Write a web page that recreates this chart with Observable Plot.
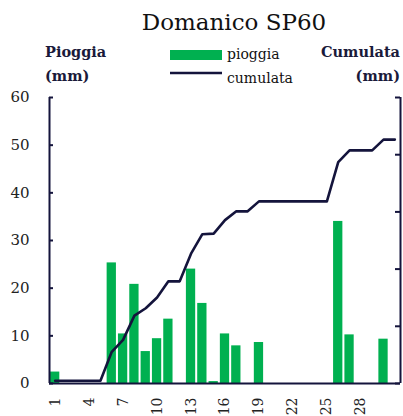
<!DOCTYPE html>
<html>
<head>
<meta charset="utf-8">
<script src="https://cdn.jsdelivr.net/npm/d3@7"></script>
<script src="https://cdn.jsdelivr.net/npm/@observablehq/plot@0.6"></script>
<style>
  html, body { margin: 0; padding: 0; background: #fff; }
  #chart { position: relative; width: 403px; height: 416px; }
</style>
</head>
<body>
<div id="chart"></div>
<script>
const days = d3.range(1, 32);
const pioggia = [2.4,0,0,0,0,25.3,10.4,20.8,6.7,9.4,13.5,0,24.0,16.8,0.4,10.4,7.9,0,8.6,0,0,0,0,0,0,34.0,10.2,0,0,9.3,0];
const cumulata = [2.4,2.4,2.4,2.4,2.4,27.7,38.1,59.3,65.8,75.2,89.3,89.3,113.5,130.5,131.0,142.8,150.5,150.5,159.2,159.2,159.2,159.2,159.2,159.2,159.2,193.5,203.8,203.8,203.8,213.2,213.2];
const xTickLabels = [1,4,7,10,13,16,19,22,25,28];
const yTicksLeft = [0,10,20,30,40,50,60];
const yTicksRight = [0,50,100,150,200,250];
const yMax = 60, cumMax = 250;

const data = days.map((d, i) => ({day: d, p: pioggia[i], c: cumulata[i]}));
const toLeft = v => v * yMax / cumMax;

const navy = "#14143c";
const green = "#00b050";
const font = "DejaVu Serif";

const W = 403, H = 416, mL = 49, mR = 3, mT = 97, mB = 33;
const frameW = W - mL - mR;

const plot = Plot.plot({
  width: W, height: H,
  marginLeft: mL, marginRight: mR, marginTop: mT, marginBottom: mB,
  style: {fontFamily: font, fontSize: "15px", color: "#222", background: "white"},
  x: {type: "linear", domain: [0.5, 31.5]},
  y: {domain: [0, yMax]},
  marks: [
    Plot.rectY(data.filter(d => d.p > 0), {x1: d => d.day - 0.41, x2: d => d.day + 0.41, y1: 0, y2: "p", fill: green}),
    Plot.line(data, {x: "day", y: d => toLeft(d.c), stroke: navy, strokeWidth: 2.6}),
    Plot.ruleX([0.5, 31.5], {stroke: navy, strokeWidth: 2}),
    Plot.ruleY([0], {stroke: navy, strokeWidth: 2}),
    Plot.tickY(yTicksLeft, {y: d => d, stroke: navy, strokeWidth: 2, insetRight: frameW - 4}),
    Plot.tickY(yTicksRight, {y: d => toLeft(d), stroke: navy, strokeWidth: 2, insetLeft: frameW - 5}),
    Plot.axisY({ticks: yTicksLeft, tickSize: 0, tickPadding: 20, label: null, fontSize: 15}),
    Plot.axisX({ticks: xTickLabels, tickSize: 0, tickPadding: 14, tickRotate: -90, label: null, fontSize: 14})
  ]
});

const svg = d3.select(plot);
function addText(txt, x, y, opts = {}) {
  svg.append("text")
    .attr("x", x).attr("y", y)
    .attr("font-family", font)
    .attr("font-size", opts.size || 15)
    .attr("font-weight", opts.weight || "normal")
    .attr("text-anchor", opts.anchor || "start")
    .attr("fill", opts.fill || "#111")
    .text(txt);
}
addText("Domanico SP60", 234, 30, {size: 23, anchor: "middle"});
addText("Pioggia", 45, 57, {size: 14.5, weight: "bold", fill: "#1a1a3a"});
addText("(mm)", 45, 81, {size: 14.5, weight: "bold", fill: "#1a1a3a"});
addText("Cumulata", 400, 57, {size: 14.5, weight: "bold", anchor: "end", fill: "#1a1a3a"});
addText("(mm)", 400, 81, {size: 14.5, weight: "bold", anchor: "end", fill: "#1a1a3a"});
// legend
svg.append("rect").attr("x", 170).attr("y", 50).attr("width", 52).attr("height", 10).attr("fill", green);
addText("pioggia", 227, 59, {size: 14});
svg.append("line").attr("x1", 170).attr("x2", 222).attr("y1", 73).attr("y2", 73).attr("stroke", navy).attr("stroke-width", 2.4);
addText("cumulata", 227, 83, {size: 14});

document.getElementById("chart").appendChild(plot);
</script>
</body>
</html>
